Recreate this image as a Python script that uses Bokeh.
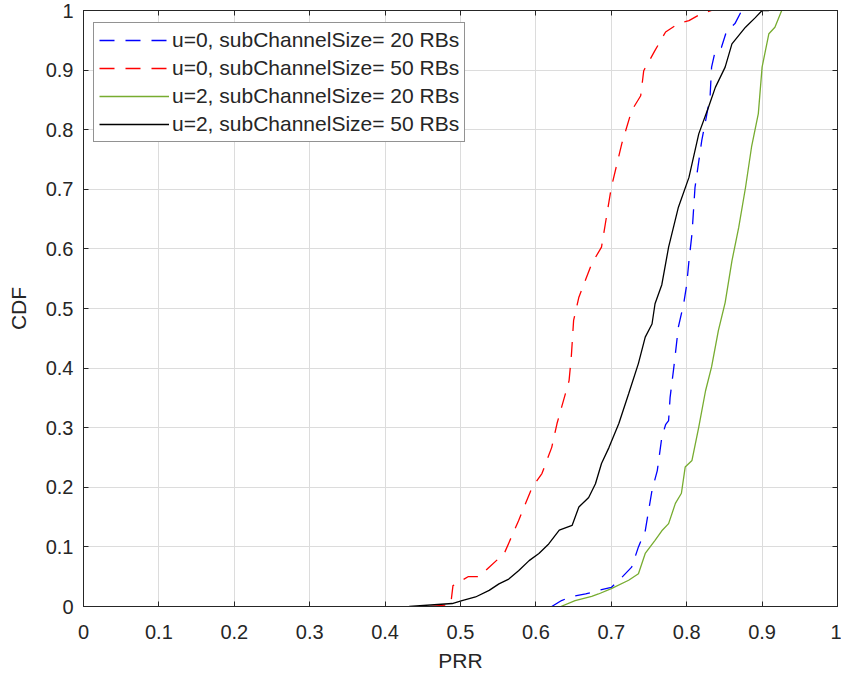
from bokeh.plotting import figure
from bokeh.models import Legend, LegendItem, FixedTicker, LinearAxis, Range1d
from bokeh.embed import file_html
from bokeh.resources import INLINE

# ---- data ----
tick_vals = [0, 0.1, 0.2, 0.3, 0.4, 0.5, 0.6, 0.7, 0.8, 0.9, 1]
tick_labels = ["0", "0.1", "0.2", "0.3", "0.4", "0.5", "0.6", "0.7", "0.8", "0.9", "1"]

names = ["u=0, subChannelSize= 20 RBs", "u=0, subChannelSize= 50 RBs",
         "u=2, subChannelSize= 20 RBs", "u=2, subChannelSize= 50 RBs"]
colors = ["#0000ff", "#ff0000", "#77ac30", "#000000"]
dashes = ["15 11", "15 11", "solid", "solid"]

u0_20_x = [0.621, 0.634, 0.648, 0.666, 0.683, 0.700, 0.714, 0.727, 0.736, 0.745, 0.754, 0.761,
           0.767, 0.772, 0.776, 0.778, 0.783, 0.789, 0.796, 0.800, 0.803, 0.807, 0.811, 0.820,
           0.826, 0.831, 0.833, 0.838, 0.846, 0.853, 0.864, 0.873]
u0_20_y = [0.000, 0.010, 0.017, 0.021, 0.027, 0.032, 0.049, 0.066, 0.100, 0.127, 0.195, 0.228,
           0.284, 0.305, 0.312, 0.351, 0.402, 0.469, 0.508, 0.540, 0.580, 0.625, 0.703, 0.782,
           0.821, 0.855, 0.905, 0.933, 0.938, 0.966, 0.978, 1.000]

u0_50_x = [0.460, 0.487, 0.490, 0.510, 0.525, 0.538, 0.558, 0.577, 0.595, 0.608, 0.621, 0.628,
           0.634, 0.644, 0.647, 0.650, 0.657, 0.674, 0.687, 0.700, 0.714, 0.727, 0.739, 0.743,
           0.758, 0.772, 0.789, 0.803, 0.820, 0.833]
u0_50_y = [0.000, 0.003, 0.035, 0.050, 0.050, 0.066, 0.089, 0.144, 0.200, 0.223, 0.267, 0.307,
           0.334, 0.379, 0.420, 0.480, 0.519, 0.575, 0.603, 0.703, 0.777, 0.832, 0.857, 0.899,
           0.933, 0.964, 0.978, 0.983, 0.995, 1.000]

u2_20_x = [0.633, 0.652, 0.674, 0.683, 0.700, 0.723, 0.736, 0.745, 0.758, 0.767, 0.776, 0.785,
           0.793, 0.798, 0.807, 0.816, 0.825, 0.833, 0.842, 0.851, 0.860, 0.869, 0.878, 0.886,
           0.895, 0.900, 0.909, 0.917, 0.926]
u2_20_y = [0.000, 0.010, 0.017, 0.021, 0.030, 0.044, 0.055, 0.089, 0.111, 0.127, 0.139, 0.173,
           0.190, 0.234, 0.245, 0.301, 0.362, 0.402, 0.463, 0.510, 0.580, 0.636, 0.703, 0.771,
           0.827, 0.905, 0.961, 0.972, 1.000]

u2_50_x = [0.432, 0.489, 0.502, 0.520, 0.538, 0.551, 0.564, 0.577, 0.591, 0.604, 0.617, 0.631,
           0.648, 0.657, 0.670, 0.679, 0.687, 0.697, 0.710, 0.723, 0.736, 0.745, 0.754, 0.758,
           0.767, 0.776, 0.789, 0.803, 0.816, 0.829, 0.838, 0.851, 0.860, 0.878, 0.891, 0.900,
           0.909]
u2_50_y = [0.000, 0.005, 0.010, 0.016, 0.027, 0.038, 0.046, 0.060, 0.077, 0.089, 0.105, 0.128,
           0.136, 0.167, 0.183, 0.206, 0.240, 0.267, 0.307, 0.357, 0.408, 0.452, 0.474, 0.508,
           0.540, 0.603, 0.670, 0.720, 0.793, 0.838, 0.871, 0.905, 0.944, 0.972, 0.988, 1.000,
           1.000]

series_x = [u0_20_x, u0_50_x, u2_20_x, u2_50_x]
series_y = [u0_20_y, u0_50_y, u2_20_y, u2_50_y]

FONT = "Liberation Sans"
TXT = "#262626"

p = figure(width=841, height=680, output_backend="svg", toolbar_location=None,
           x_range=Range1d(0, 1), y_range=Range1d(0, 1),
           min_border_left=83, min_border_right=4, min_border_top=10, min_border_bottom=74)
p.background_fill_color = "white"
p.border_fill_color = "white"
p.outline_line_color = TXT
p.outline_line_width = 1

renderers = []
for xs, ys, c, d in zip(series_x, series_y, colors, dashes):
    renderers.append(p.line(xs, ys, line_color=c, line_width=1.3, line_dash=d))

overrides = {v: l for v, l in zip(tick_vals, tick_labels)}

for ax in (p.xaxis[0], p.yaxis[0]):
    ax.ticker = FixedTicker(ticks=tick_vals)
    ax.major_label_overrides = overrides
    ax.major_tick_in = 5
    ax.major_tick_out = 0
    ax.minor_tick_in = 0
    ax.minor_tick_out = 0
    ax.axis_line_color = TXT
    ax.major_tick_line_color = TXT
    ax.major_label_text_font = FONT
    ax.major_label_text_font_size = "20px"
    ax.major_label_text_color = TXT
    ax.axis_label_text_font = FONT
    ax.axis_label_text_font_size = "21px"
    ax.axis_label_text_font_style = "normal"
    ax.axis_label_text_color = TXT

p.xaxis[0].axis_label = "PRR"
p.yaxis[0].axis_label = "CDF"
p.xaxis[0].major_label_standoff = 18
p.yaxis[0].major_label_standoff = 10
p.xaxis[0].axis_label_standoff = 7
p.yaxis[0].axis_label_standoff = 13

blank = {v: "" for v in tick_vals}
for loc in ("right", "above"):
    ax = LinearAxis(ticker=FixedTicker(ticks=tick_vals))
    ax.major_label_overrides = blank
    ax.major_tick_in = 5
    ax.major_tick_out = 0
    ax.minor_tick_in = 0
    ax.minor_tick_out = 0
    ax.axis_line_color = TXT
    ax.major_tick_line_color = TXT
    ax.major_label_standoff = 0
    p.add_layout(ax, loc)

for g in (p.xgrid[0], p.ygrid[0]):
    g.ticker = FixedTicker(ticks=tick_vals)
    g.grid_line_color = "#dcdcdc"
    g.grid_line_width = 1

legend = Legend(items=[LegendItem(label=n, renderers=[r]) for n, r in zip(names, renderers)],
                location=(10, 464))
legend.glyph_width = 70
legend.glyph_height = 22
legend.label_height = 22
legend.spacing = 4
legend.padding = 5
legend.margin = 0
legend.label_standoff = 3
legend.label_text_font = FONT
legend.label_text_font_size = "21px"
legend.label_text_color = TXT
legend.border_line_color = TXT
legend.border_line_width = 1
legend.background_fill_alpha = 1
p.add_layout(legend)

open("out.html", "w").write(file_html(p, INLINE))
